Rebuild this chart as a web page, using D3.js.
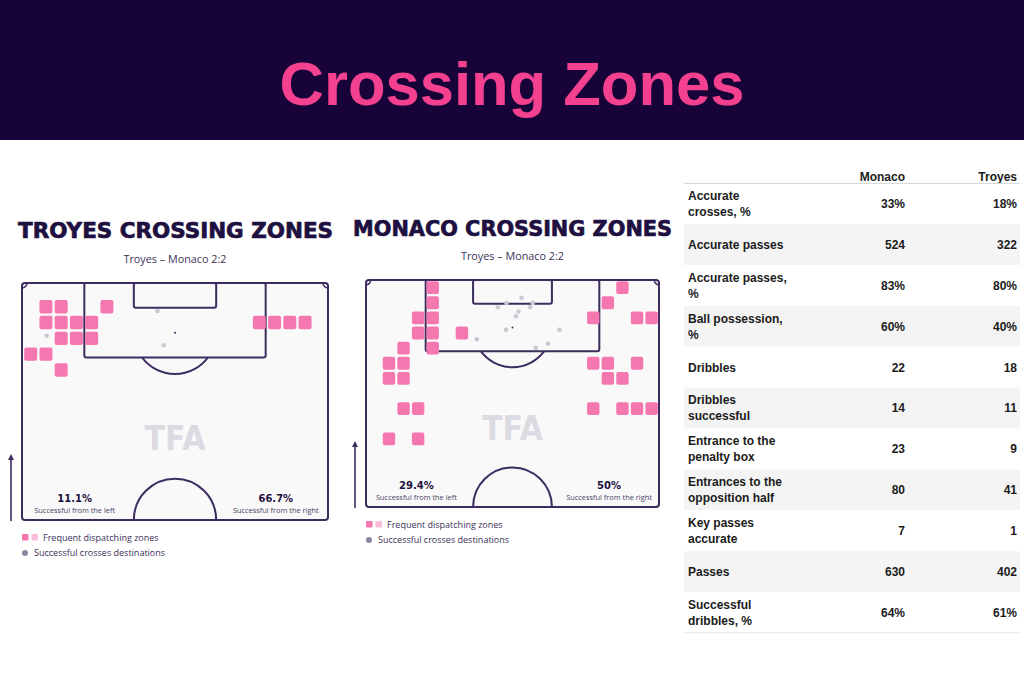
<!DOCTYPE html>
<html><head><meta charset="utf-8">
<script src="https://cdn.jsdelivr.net/npm/d3@7"></script>
<style>body{margin:0;background:#fff}svg{display:block}</style>
</head><body><svg id="c" width="1024" height="683"></svg>
<script>
// ---------- DATA ----------
const mainTitle = "Crossing Zones";
const matchLabel = "Troyes – Monaco 2:2";
const pitchTitles = ["TROYES CROSSING ZONES", "MONACO CROSSING ZONES"];
// frequent dispatching zones: [column, row] in a 20 x 15 grid of the half pitch
const troyesZones = [[1,1],[2,1],[5,1],[1,2],[2,2],[3,2],[4,2],[15,2],[16,2],[17,2],[18,2],
  [2,3],[3,3],[4,3],[0,4],[1,4],[2,5]];
const monacoZones = [[4,0],[17,0],[4,1],[16,1],[3,2],[4,2],[15,2],[18,2],[19,2],[3,3],[4,3],[6,3],
  [2,4],[4,4],[1,5],[2,5],[15,5],[16,5],[18,5],[1,6],[2,6],[16,6],[17,6],
  [2,8],[3,8],[15,8],[17,8],[18,8],[19,8],[1,10],[3,10]];
// successful crosses destinations: [metres across, metres from goal line]
const troyesDest = [[5.5,11.7],[30.1,6.2],[31.5,13.8]];
const monacoDest = [[36.1,4.1],[38.7,5.3],[32.6,5.3],[30.6,6.3],[38.1,6.3],[35.4,7.3],[34.8,8.4],
  [32.5,11.5],[44.9,11.5],[25.7,13.7],[42.2,14.7],[39.4,15.7]];
const troyesPct = ["11.1%", "66.7%"];
const monacoPct = ["29.4%", "50%"];
const sideLabels = ["Successful from the left", "Successful from the right"];
const legendLabels = ["Frequent dispatching zones", "Successful crosses destinations"];
const teamHeaders = ["Monaco", "Troyes"];
const statLabels = ["Accurate\ncrosses, %", "Accurate passes", "Accurate passes,\n%", "Ball possession,\n%",
  "Dribbles", "Dribbles\nsuccessful", "Entrance to the\npenalty box", "Entrances to the\nopposition half",
  "Key passes\naccurate", "Passes", "Successful\ndribbles, %"];
const monacoStats = ["33%", "524", "83%", "60%", "22", "14", "23", "80", "7", "630", "64%"];
const troyesStats = ["18%", "322", "80%", "40%", "18", "11", "9", "41", "1", "402", "61%"];

// ---------- STYLE ----------
const NAVY = "#170338", PINK = "#f3418f", LINE = "#3d2c60", ZONE = "#f577b0", ZONE2 = "#f9bcd9",
      DOT = "#c9c8d3", INK = "#1e1040";
const svg = d3.select("#c");
svg.append("rect").attr("width", 1024).attr("height", 683).attr("fill", "#fff");
svg.append("rect").attr("width", 1024).attr("height", 140).attr("fill", NAVY);
svg.append("text").attr("x", 512).attr("y", 105).attr("text-anchor", "middle")
  .attr("font-family", "Liberation Sans, Arial, sans-serif").attr("font-weight", 700)
  .attr("font-size", 61).attr("fill", PINK).attr("textLength", 465).attr("lengthAdjust", "spacingAndGlyphs")
  .text(mainTitle);

const PW = 68, PL = 52.5;
function drawPitch(cfg) {
  const g = svg.append("g");
  const x = d3.scaleLinear([0, PW], [cfg.x0, cfg.x0 + cfg.w]);
  const y = d3.scaleLinear([0, PL], [cfg.y0, cfg.y0 + cfg.h]);
  const bx = d3.scaleBand(d3.range(20), [cfg.x0 + 1, cfg.x0 + cfg.w]).paddingInner(0.15).paddingOuter(0.08);
  const by = d3.scaleBand(d3.range(15), [cfg.y0, cfg.y0 + cfg.h]).paddingInner(0.15).paddingOuter(0.08);

  // titles
  g.append("text").attr("x", cfg.x0 + cfg.w / 2 + cfg.tdx).attr("y", cfg.titleY).attr("text-anchor", "middle")
    .attr("font-family", "DejaVu Sans, sans-serif").attr("font-weight", 700).attr("font-size", 21)
    .attr("fill", INK).attr("stroke", INK).attr("stroke-width", 0.7)
    .attr("textLength", cfg.titleW).attr("lengthAdjust", "spacingAndGlyphs").text(cfg.title);
  g.append("text").attr("x", cfg.x0 + cfg.w / 2).attr("y", cfg.subY).attr("text-anchor", "middle")
    .attr("font-family", "Open Sans, sans-serif").attr("font-size", 10.8).attr("fill", "#3b3158").text(matchLabel);

  const st = { fill: "none", stroke: LINE, "stroke-width": 2 };
  const ap = (sel, o) => { for (const k in o) sel.attr(k, o[k]); return sel; };
  ap(g.append("rect").attr("x", x(0)).attr("y", y(0)).attr("width", x(PW) - x(0)).attr("height", y(PL) - y(0))
    .attr("rx", 3), st).attr("fill", "#f9f9fa");
  ap(g.append("rect").attr("x", x(13.85)).attr("y", y(0)).attr("width", x(54.15) - x(13.85))
    .attr("height", y(16.5) - y(0)).attr("rx", 2), st);
  ap(g.append("rect").attr("x", x(24.85)).attr("y", y(0)).attr("width", x(43.15) - x(24.85))
    .attr("height", y(5.5) - y(0)).attr("rx", 2), st);
  const rx = x(9.15) - x(0), ry = y(9.15) - y(0);
  ap(g.append("path").attr("d", `M${x(34 - 7.32)},${y(16.5)} A${rx},${ry} 0 0 0 ${x(34 + 7.32)},${y(16.5)}`), st);
  ap(g.append("path").attr("d", `M${x(24.85)},${y(PL)} A${rx},${ry} 0 0 1 ${x(43.15)},${y(PL)}`), st);
  const cr = x(1.1) - x(0);
  ap(g.append("path").attr("d", `M${x(1.1)},${y(0)} A${cr},${cr} 0 0 1 ${x(0)},${y(1.1)}`), st).attr("stroke-width", 1.5);
  ap(g.append("path").attr("d", `M${x(PW - 1.1)},${y(0)} A${cr},${cr} 0 0 0 ${x(PW)},${y(1.1)}`), st).attr("stroke-width", 1.5);

  // watermark
  g.append("text").attr("x", x(34)).attr("y", y(37)).attr("text-anchor", "middle")
    .attr("font-family", "DejaVu Sans, sans-serif").attr("font-weight", 700).attr("font-size", 33)
    .attr("fill", "#dcdbe2").attr("textLength", 61).attr("lengthAdjust", "spacingAndGlyphs").text("TFA");

  // zones
  g.selectAll("rect.z").data(cfg.zones).join("rect").attr("class", "z")
    .attr("x", d => bx(d[0])).attr("y", d => by(d[1]))
    .attr("width", bx.bandwidth()).attr("height", by.bandwidth()).attr("rx", 2).attr("fill", ZONE);
  // destinations
  g.selectAll("circle.d").data(cfg.dest).join("circle").attr("class", "d")
    .attr("cx", d => x(d[0])).attr("cy", d => y(d[1])).attr("r", 2.3).attr("fill", DOT);
  g.append("circle").attr("cx", x(34)).attr("cy", y(11)).attr("r", 1).attr("fill", LINE);

  // percentages
  [11.7, 56.4].forEach((mx, i) => {
    g.append("text").attr("x", x(mx)).attr("y", y(PL) - 18).attr("text-anchor", "middle")
      .attr("font-family", "DejaVu Sans, sans-serif").attr("font-weight", 700).attr("font-size", 10)
      .attr("fill", INK).text(cfg.pct[i]);
    g.append("text").attr("x", x(mx)).attr("y", y(PL) - 7.5).attr("text-anchor", "middle")
      .attr("font-family", "Open Sans, sans-serif").attr("font-size", 7.4)
      .attr("fill", "#4a4462").text(sideLabels[i]);
  });

  // arrow
  const ax = cfg.x0 - 11, ab = y(PL) + 1, at = y(PL) - 66;
  g.append("line").attr("x1", ax).attr("x2", ax).attr("y1", ab).attr("y2", at + 4)
    .attr("stroke", LINE).attr("stroke-width", 1.6);
  g.append("path").attr("d", `M${ax - 3},${at + 6} L${ax},${at} L${ax + 3},${at + 6} Z`).attr("fill", LINE);

  // legend
  const ly = y(PL);
  g.append("rect").attr("x", cfg.x0).attr("y", ly + 14).attr("width", 6.5).attr("height", 6.5).attr("rx", 1).attr("fill", ZONE);
  g.append("rect").attr("x", cfg.x0 + 9.5).attr("y", ly + 14).attr("width", 6.5).attr("height", 6.5).attr("rx", 1).attr("fill", ZONE2);
  g.append("text").attr("x", cfg.x0 + 21).attr("y", ly + 20.5).attr("font-family", "Open Sans, sans-serif")
    .attr("font-size", 9).attr("fill", "#3b3158").text(legendLabels[0]);
  g.append("circle").attr("cx", cfg.x0 + 3).attr("cy", ly + 33).attr("r", 3).attr("fill", "#8a86a0");
  g.append("text").attr("x", cfg.x0 + 12).attr("y", ly + 35.8).attr("font-family", "Open Sans, sans-serif")
    .attr("font-size", 9).attr("fill", "#3b3158").text(legendLabels[1]);
}

drawPitch({ x0: 22, y0: 283, w: 306, h: 237, tdx: 0.5, titleY: 238, titleW: 315, subY: 263,
  title: pitchTitles[0], zones: troyesZones, dest: troyesDest, pct: troyesPct });
drawPitch({ x0: 366, y0: 280, w: 293, h: 227, tdx: 0, titleY: 236, titleW: 319, subY: 260,
  title: pitchTitles[1], zones: monacoZones, dest: monacoDest, pct: monacoPct });

// ---------- TABLE ----------
const T = svg.append("g").attr("font-family", "Liberation Sans, Arial, sans-serif").attr("font-weight", 700)
  .attr("font-size", 12).attr("fill", "#1b1b1b");
const rows = d3.scaleBand(d3.range(statLabels.length), [183.4, 632.8]);
const colX = [905, 1017];
teamHeaders.forEach((h, i) => T.append("text").attr("x", colX[i]).attr("y", 180.5).attr("text-anchor", "end").text(h));
T.selectAll("rect.band").data(statLabels).join("rect").attr("class", "band")
  .attr("x", 684).attr("width", 336).attr("y", (d, i) => rows(i)).attr("height", rows.bandwidth())
  .attr("fill", (d, i) => i % 2 ? "#f4f4f4" : "#fff");
T.append("line").attr("x1", 684).attr("x2", 1020).attr("y1", 183.4).attr("y2", 183.4).attr("stroke", "#d6d6d6");
T.append("line").attr("x1", 684).attr("x2", 1020).attr("y1", 632.8).attr("y2", 632.8).attr("stroke", "#e6e6e6");
statLabels.forEach((lab, i) => {
  const lines = lab.split("\n");
  const cy = rows(i) + rows.bandwidth() / 2;
  const t = T.append("text").attr("x", 688).attr("y", cy - (lines.length - 1) * 8 + 4.3);
  lines.forEach((ln, k) => t.append("tspan").attr("x", 688).attr("dy", k ? 16 : 0).text(ln));
  T.append("text").attr("x", colX[0]).attr("y", cy + 4.3).attr("text-anchor", "end").text(monacoStats[i]);
  T.append("text").attr("x", colX[1]).attr("y", cy + 4.3).attr("text-anchor", "end").text(troyesStats[i]);
});
</script></body></html>
